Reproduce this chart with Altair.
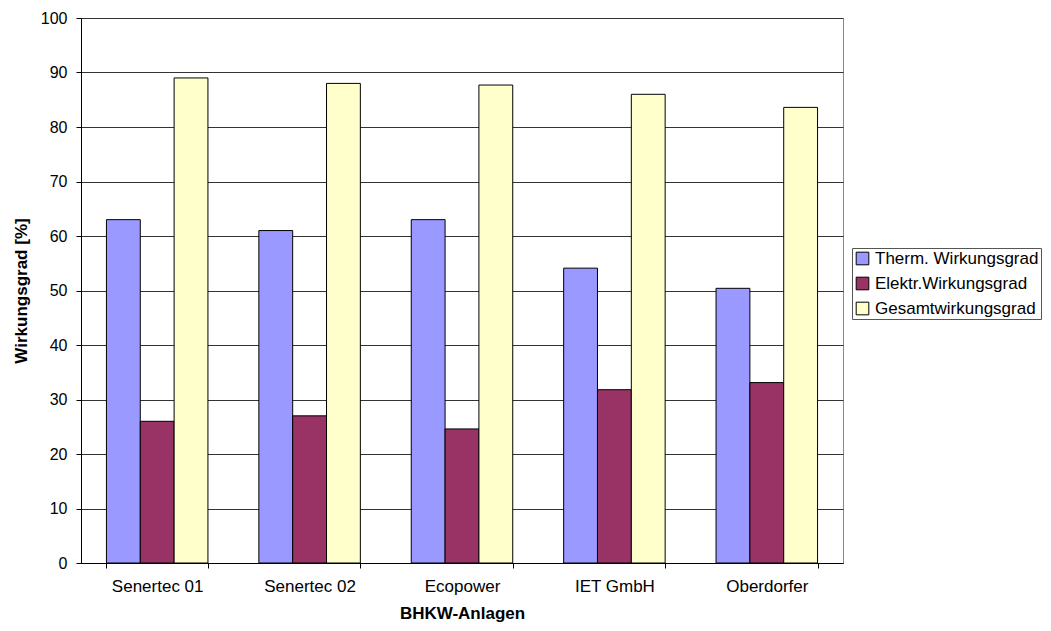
import altair as alt
import pandas as pd

anlagen = ["Senertec 01", "Senertec 02", "Ecopower", "IET GmbH", "Oberdorfer"]
series = ["Therm. Wirkungsgrad", "Elektr.Wirkungsgrad", "Gesamtwirkungsgrad"]
therm = [63.0, 61.0, 63.0, 54.1, 50.4]
elektr = [26.0, 27.0, 24.6, 31.8, 33.1]
gesamt = [89.0, 88.0, 87.7, 86.0, 83.6]
colors = ["#9999FF", "#993366", "#FFFFCC"]

rows = []
for i, a in enumerate(anlagen):
    for s, vals in zip(series, [therm, elektr, gesamt]):
        rows.append({"Anlage": a, "Serie": s, "Wert": vals[i]})
df = pd.DataFrame(rows)

FONT = "Liberation Sans"

chart = alt.Chart(df).mark_bar(stroke="black", strokeWidth=1).encode(
    x=alt.X("Anlage:N", sort=anlagen,
            scale=alt.Scale(paddingInner=0.334, paddingOuter=0.167),
            axis=alt.Axis(title="BHKW-Anlagen", labelAngle=0, tickBand="extent",
                          tickSize=5, tickColor="black", domainColor="black",
                          labelFontSize=17, labelFont=FONT, labelColor="black",
                          labelPadding=10, titleFont=FONT, titleFontSize=17,
                          titleFontWeight="bold", titleColor="black", titlePadding=11)),
    xOffset=alt.XOffset("Serie:N", sort=series, scale=alt.Scale(paddingInner=0, paddingOuter=0)),
    y=alt.Y("Wert:Q", scale=alt.Scale(domain=[0, 100]),
            axis=alt.Axis(title="Wirkungsgrad [%]", values=list(range(0, 101, 10)),
                          tickSize=5, tickColor="black", domainColor="black",
                          gridColor="#333333", gridWidth=1,
                          labelFontSize=16, labelFont=FONT, labelColor="black",
                          labelPadding=9, titleFont=FONT, titleFontSize=17,
                          titleFontWeight="bold", titleColor="black", titlePadding=10)),
    color=alt.Color("Serie:N", sort=series,
                    scale=alt.Scale(domain=series, range=colors),
                    legend=alt.Legend(title=None, orient="none", legendX=771, legendY=230,
                                      symbolType="square", symbolSize=160,
                                      symbolStrokeColor="black", symbolStrokeWidth=1,
                                      labelFontSize=17, labelFont=FONT, labelColor="black",
                                      labelOffset=4, labelLimit=400,
                                      rowPadding=7, padding=2,
                                      strokeColor="#555555", fillColor="white")),
).properties(
    width=762, height=545,
    autosize=alt.AutoSizeParams(type="none"),
    padding={"left": 73, "top": 10, "right": 200, "bottom": 70},
).configure_view(stroke="#888888", strokeWidth=1)

chart.save("out.html", embed_options={"renderer": "svg", "actions": False})
